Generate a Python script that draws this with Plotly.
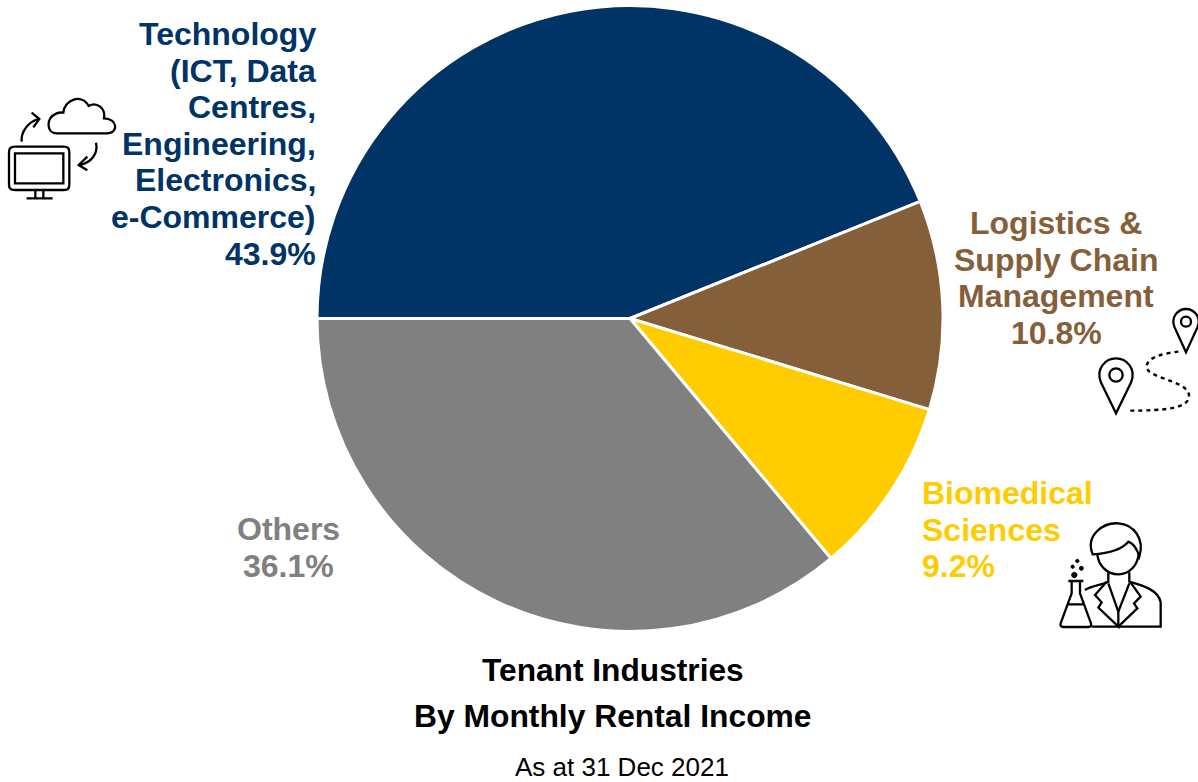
import re
import plotly.graph_objects as go

W, H = 1198, 782

categories = ["Technology", "Logistics & Supply Chain Management", "Biomedical Sciences", "Others"]
shares = [43.9, 10.8, 9.2, 36.1]
colors = ["#003366", "#855F3A", "#FFCC00", "#808080"]

tech_lines = ["Technology", "(ICT, Data", "Centres,", "Engineering,", "Electronics,", "e-Commerce)", "43.9%"]
logi_lines = ["Logistics &", "Supply Chain", "Management", "10.8%"]
bio_lines = ["Biomedical", "Sciences", "9.2%"]
other_lines = ["Others", "36.1%"]
title_lines = ["Tenant Industries", "By Monthly Rental Income"]
subtitle = "As at 31 Dec 2021"


def px_path(d, ox=0.0, oy=0.0, s=1.0):
    """Convert a path given in crop pixels to paper coordinates."""
    toks = re.findall(r"[MLCQZ]|-?[\d.]+", d)
    out, is_x = [], True
    for t in toks:
        if t in "MLCQZ":
            out.append(t)
            is_x = True
        elif is_x:
            out.append(f"{(ox + float(t) * s) / W:.5f},")
            is_x = False
        else:
            out.append(f"{1 - (oy + float(t) * s) / H:.5f}")
            is_x = True
    return " ".join(out).replace(", ", ",")


def circle(cx, cy, r):
    k = 0.5523 * r
    return (f"M{cx-r} {cy} C{cx-r} {cy-k} {cx-k} {cy-r} {cx} {cy-r} C{cx+k} {cy-r} {cx+r} {cy-k} {cx+r} {cy} "
            f"C{cx+r} {cy+k} {cx+k} {cy+r} {cx} {cy+r} C{cx-k} {cy+r} {cx-r} {cy+k} {cx-r} {cy} Z")


def pin(cx, cy, r, tip):
    return (f"M{cx} {tip} L{cx-r*0.9} {cy+r*0.45} C{cx-r*1.25} {cy-r*0.4} {cx-r*0.6} {cy-r} {cx} {cy-r} "
            f"C{cx+r*0.6} {cy-r} {cx+r*1.25} {cy-r*0.4} {cx+r*0.9} {cy+r*0.45} Z")


shapes = []


def icon(d, ox, oy, s=1 / 3, width=2.3, dash=None, fill=None):
    line = dict(color="black", width=width)
    if dash:
        line["dash"] = dash
    shapes.append(dict(type="path", xref="paper", yref="paper", path=px_path(d, ox, oy, s), line=line,
                       fillcolor=fill or "rgba(0,0,0,0)"))


# computer and cloud icon
c = (0, 90)
icon("M45 170 L192 170 C203 170 208 175 208 186 L208 284 C208 295 203 300 192 300 L45 300 C34 300 27 295 27 284 "
     "L27 186 C27 175 34 170 45 170 Z", *c)
icon("M45 190 L190 190 L190 280 L45 280 Z", *c)
icon("M106 300 L106 325 M130 300 L130 325 M80 325 L158 325", *c)
icon("M170 130 C140 130 135 85 170 70 C180 66 188 68 190 68 C193 28 245 10 266 48 C290 34 318 55 312 85 "
     "C352 85 358 130 320 130 Z", *c)
icon("M65 155 C62 125 85 95 116 87 M95 68 L118 87 L100 112", *c)
icon("M288 158 C295 190 275 218 238 225 M262 200 L236 225 L262 241", *c)

# route icon
c = (1090, 300)
icon(pin(288, 65, 38, 157), *c)
icon(circle(288, 65, 15), *c)
icon(pin(78, 225, 50, 340), *c)
icon(circle(78, 225, 20), *c)
icon("M265 155 C225 160 170 170 170 200 C170 235 290 240 297 285 C300 325 230 332 110 332", *c, dash="4px,4px", width=2.4)

# scientist icon
c = (1050, 515)
icon("M128 118 C105 60 160 22 205 25 C250 28 285 70 268 125 C262 105 250 85 235 80 C215 105 170 115 128 118 Z", *c)
icon("M142 118 C145 150 170 178 205 178 C240 178 262 150 266 118", *c)
icon("M175 172 L175 200 C150 212 125 212 105 225", *c)
icon("M238 172 L238 200 C280 212 325 225 332 262 L332 335 L125 335", *c)
icon("M170 200 L135 240 L155 262 L145 278 L205 335 L205 290 L175 205", *c)
icon("M240 200 L272 245 L252 265 L262 280 L205 335 M205 290 L238 205", *c)
icon("M55 198 L100 198 M65 198 L65 235 L32 325 C30 332 33 336 40 336 L115 336 C122 336 125 332 123 325 L90 235 L90 198 "
     "M52 268 L104 268", *c)
icon(circle(73, 180, 8), *c, fill="black", width=1)
icon(circle(68, 155, 5), *c, fill="black", width=1)
icon(circle(94, 160, 6), *c, fill="black", width=1)
icon(circle(82, 138, 5), *c, fill="black", width=1)

fig = go.Figure(go.Pie(
    labels=categories, values=shares, sort=False, direction="clockwise", rotation=270,
    marker=dict(colors=colors, line=dict(color="white", width=3)),
    textinfo="none", showlegend=False,
    domain=dict(x=[317 / W, 943 / W], y=[1 - 631.5 / H, 1 - 5.5 / H]),
))

annotations = []


def text(s, x, y, color, anchor="center", size=32, bold=True):
    annotations.append(dict(
        text=f"<b>{s}</b>" if bold else s, x=x / W, y=1 - y / H, xref="paper", yref="paper",
        xanchor=anchor, yanchor="middle", showarrow=False,
        font=dict(family="Liberation Sans, Arial, sans-serif", size=size, color=color),
    ))


for i, s in enumerate(tech_lines):
    text(s, 318, 34 + i * 36.6, colors[0], "right")
for i, s in enumerate(logi_lines):
    text(s, 1056, 223 + i * 36.6, colors[1])
for i, s in enumerate(bio_lines):
    text(s, 920, 493 + i * 36.5, colors[2], "left")
for i, s in enumerate(other_lines):
    text(s, 288, 529 + i * 36.5, colors[3])
text(title_lines[0], 613, 670, "black", size=31.7)
text(title_lines[1], 613, 716, "black", size=31.8)
text(subtitle, 622, 767, "black", size=26, bold=False)

fig.update_layout(
    width=W, height=H, autosize=False, margin=dict(l=0, r=0, t=0, b=0),
    paper_bgcolor="white", annotations=annotations, shapes=shapes,
)
fig.write_html("out.html", config=dict(displayModeBar=False),
               post_script="document.body.style.margin='0';document.body.style.overflow='hidden';")
